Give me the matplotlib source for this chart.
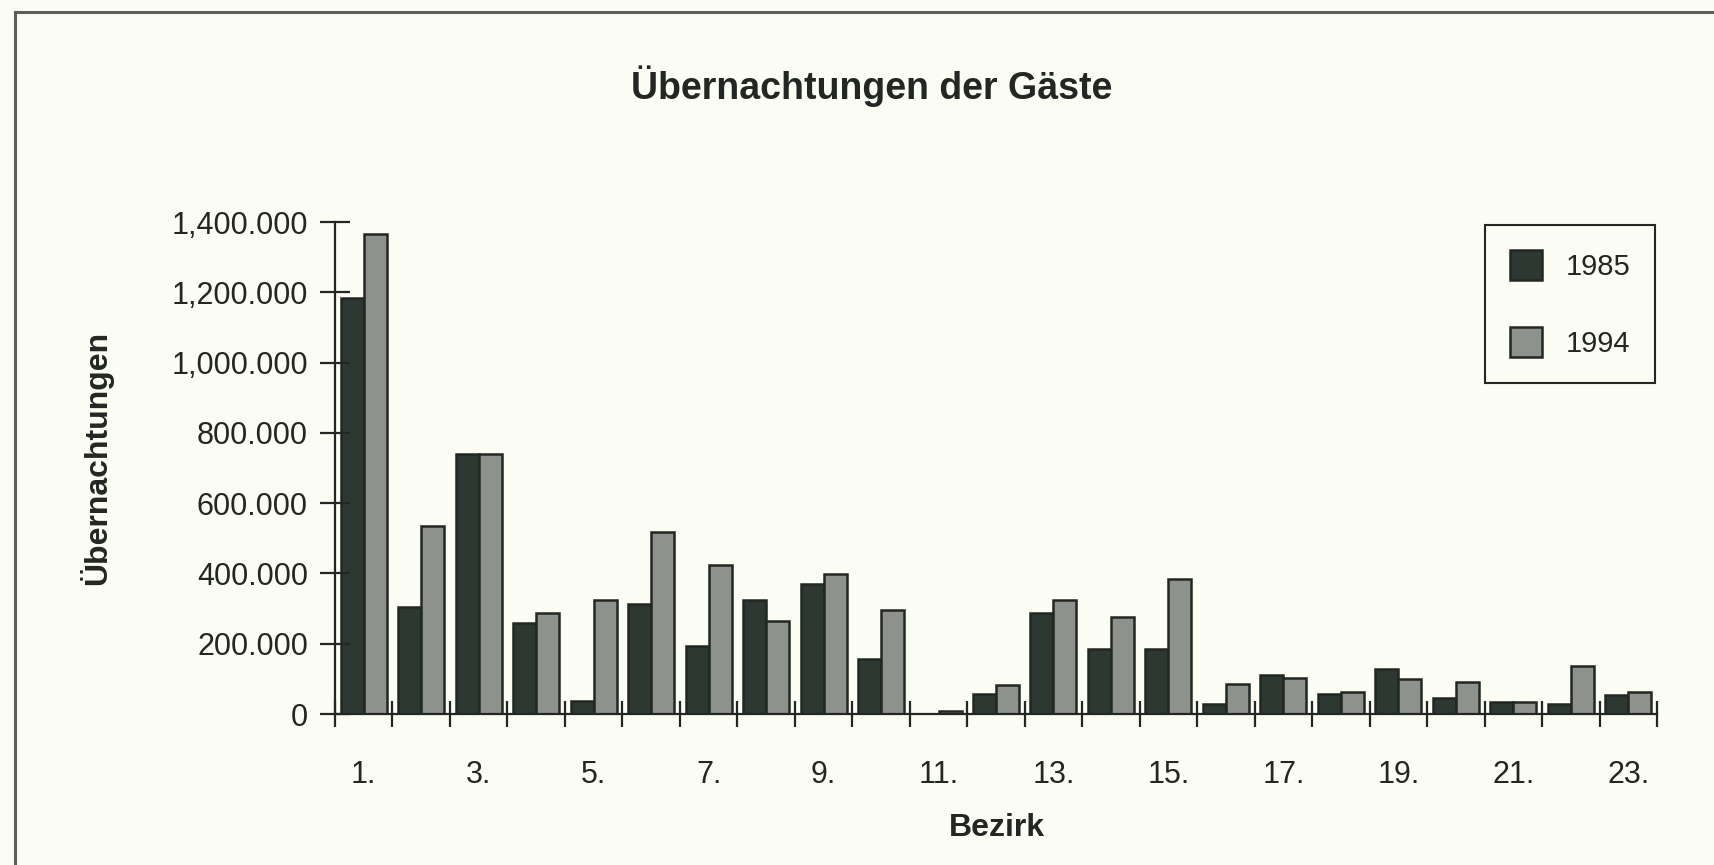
import numpy as np
import matplotlib.pyplot as plt
from matplotlib.lines import Line2D

# Bezirke 1. .. 23., Übernachtungen pro Jahr
bezirke = [f"{i}." for i in range(1, 24)]
uebernachtungen_1985 = [1183000, 304000, 739000, 259000, 36000, 314000, 193000, 323000,
                        370000, 157000, 0, 57000, 287000, 184000, 184000, 28000,
                        112000, 56000, 129000, 46000, 35000, 28000, 55000]
uebernachtungen_1994 = [1366000, 536000, 739000, 288000, 323000, 517000, 423000, 265000,
                        398000, 295000, 9000, 83000, 323000, 276000, 385000, 84000,
                        102000, 64000, 101000, 91000, 35000, 136000, 64000]
series_labels = ["1985", "1994"]
y_ticks = [0, 200000, 400000, 600000, 800000, 1000000, 1200000, 1400000]
y_tick_labels = ["0", "200.000", "400.000", "600.000", "800.000",
                 "1,000.000", "1,200.000", "1,400.000"]

BG = "#fbfcf4"
INK = "#222723"
DARK = "#2e3833"
LIGHT = "#8d928d"


def main() -> None:
    plt.rcParams["font.family"] = ["Liberation Sans", "DejaVu Sans"]

    W, H = 1714, 865
    fig = plt.figure(figsize=(W / 100, H / 100), dpi=100, facecolor=BG)
    ax = fig.add_axes([335 / W, 1 - 714 / H, (1657 - 335) / W, (714 - 222) / H])
    ax.set_facecolor(BG)

    x = np.arange(len(bezirke))
    width = 0.4
    b1 = ax.bar(x - width / 2, uebernachtungen_1985, width, color=DARK,
                edgecolor=INK, linewidth=1.8, label=series_labels[0])
    b2 = ax.bar(x + width / 2, uebernachtungen_1994, width, color=LIGHT,
                edgecolor=INK, linewidth=1.8, label=series_labels[1])

    ax.set_xlim(-0.5, len(bezirke) - 0.5)
    ax.set_ylim(0, 1400000)

    for side in ("top", "right"):
        ax.spines[side].set_visible(False)
    for side in ("left", "bottom"):
        ax.spines[side].set_color(INK)
        ax.spines[side].set_linewidth(1.6)

    # y axis
    ax.set_yticks(y_ticks)
    ax.set_yticklabels(y_tick_labels)
    ax.tick_params(axis="y", direction="inout", length=21, width=1.6,
                   color=INK, labelsize=22, labelcolor=INK, pad=9)

    # x axis: tick marks between groups, labels on every other group
    ax.set_xticks(np.arange(-0.5, len(bezirke), 1.0))
    ax.set_xticklabels([])
    ax.tick_params(axis="x", which="major", direction="inout", length=19,
                   width=1.6, color=INK)
    ax.set_xticks(x[::2], minor=True)
    ax.set_xticklabels(bezirke[::2], minor=True)
    ax.tick_params(axis="x", which="minor", length=0, labelsize=22,
                   labelcolor=INK, pad=33)

    fig.text(872 / W, 1 - 86 / H, "Übernachtungen der Gäste", ha="center",
             va="center", fontsize=27, fontweight="bold", color=INK)
    fig.text(96 / W, 1 - 458 / H, "Übernachtungen", ha="center", va="center",
             rotation=90, fontsize=23, fontweight="bold", color=INK)
    fig.text(997 / W, 1 - 828 / H, "Bezirk", ha="center", va="center",
             fontsize=23, fontweight="bold", color=INK)

    leg = ax.legend(handles=[b1, b2], loc="upper right",
                    bbox_to_anchor=(1655 / W, 1 - 225 / H),
                    bbox_transform=fig.transFigure, borderaxespad=0,
                    fontsize=21, fancybox=False, framealpha=1, facecolor=BG,
                    edgecolor=INK, handlelength=1.1, handleheight=1.2,
                    handletextpad=0.8, labelspacing=1.6, borderpad=0.85)
    leg.get_frame().set_linewidth(1.5)
    for t in leg.get_texts():
        t.set_color(INK)

    # scanned page frame (left and top edges visible)
    fx, fy = 15 / W, 1 - 12 / H
    fig.add_artist(Line2D([fx, fx], [0, fy], color="#5a5f5a", lw=2.2,
                          transform=fig.transFigure))
    fig.add_artist(Line2D([fx, 1], [fy, fy], color="#5a5f5a", lw=2.2,
                          transform=fig.transFigure))

    fig.savefig("out.png", dpi=100, facecolor=BG)


if __name__ == "__main__":
    main()
